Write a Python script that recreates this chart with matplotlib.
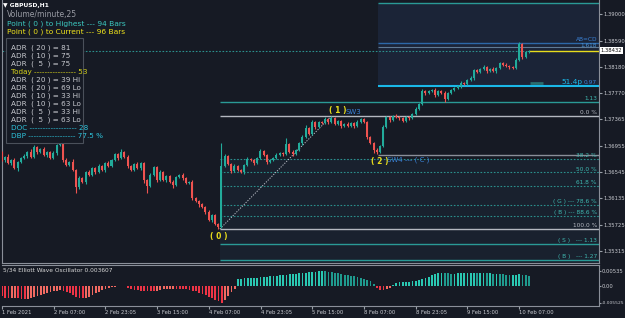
"""
GBPUSD H1 chart with Fibonacci levels, ADR panel and Elliott Wave Oscillator
"""

import matplotlib.pyplot as plt
import matplotlib.patches as mpatches
import matplotlib.transforms as mtransforms
import numpy as np

BG = '#161a24'
FG = '#c8cad0'
GREEN = '#22ab9b'
RED = '#ef5350'
TEAL = '#2a9a96'
GRAY = '#b4b8c0'
YELLOW = '#e8dc1c'
BLUE = '#3a82d8'
CYAN = '#1ab8e8'

plt.rcParams.update({
    'font.family': 'DejaVu Sans',
    'font.size': 5,
})

# ---- data (H1 candles, 1 Feb 15:00 .. 10 Feb 10:00) ----
first_open = 1.36840
closes = [
    1.36731, 1.36778, 1.36684, 1.36731, 1.36606, 1.36700, 1.36762, 1.36793,
    1.36855, 1.36778, 1.36933, 1.36855, 1.36902, 1.36809, 1.36855, 1.36762,
    1.36840, 1.36964, 1.36995, 1.36731, 1.36653, 1.36700, 1.36575, 1.36311,
    1.36451, 1.36389, 1.36544, 1.36498, 1.36606, 1.36544, 1.36638, 1.36575,
    1.36684, 1.36638, 1.36731, 1.36824, 1.36762, 1.36855, 1.36778, 1.36638,
    1.36575, 1.36669, 1.36606, 1.36684, 1.36420, 1.36326, 1.36498, 1.36622,
    1.36420, 1.36544, 1.36420, 1.36482, 1.36389, 1.36342, 1.36466, 1.36498,
    1.36451, 1.36373, 1.36389, 1.36140, 1.36093, 1.36046, 1.36000, 1.35922,
    1.35797, 1.35875, 1.35735, 1.35688, 1.36638, 1.36793, 1.36669, 1.36560,
    1.36638, 1.36575, 1.36544, 1.36653, 1.36747, 1.36731, 1.36684, 1.36762,
    1.36871, 1.36809, 1.36700, 1.36731, 1.36762, 1.36809, 1.36840, 1.36824,
    1.36980, 1.36855, 1.36824, 1.36887, 1.36995, 1.37089, 1.37229, 1.37136,
    1.37322, 1.37244, 1.37322, 1.37307, 1.37369, 1.37322, 1.37384, 1.37291,
    1.37338, 1.37260, 1.37291, 1.37260, 1.37307, 1.37260, 1.37322, 1.37369,
    1.37322, 1.37089, 1.36995, 1.36887, 1.36855, 1.36949, 1.37244, 1.37400,
    1.37353, 1.37416, 1.37400, 1.37384, 1.37338, 1.37400, 1.37384, 1.37447,
    1.37525, 1.37602, 1.37805, 1.37773, 1.37805, 1.37820, 1.37742, 1.37805,
    1.37773, 1.37680, 1.37773, 1.37820, 1.37851, 1.37882, 1.37929, 1.37914,
    1.37976, 1.38007, 1.38131, 1.38100, 1.38147, 1.38178, 1.38116, 1.38147,
    1.38116, 1.38162, 1.38240, 1.38209, 1.38194, 1.38178, 1.38162, 1.38287,
    1.38536, 1.38334, 1.38411, 1.38432,
]
wick_hi = [  # pips above body
    3, 2, 4, 2, 3, 2, 1, 3, 2, 4, 3, 2, 1, 3, 2, 2,
    3, 2, 5, 2, 3, 2, 4, 1, 3, 2, 2, 3, 1, 2, 3, 2,
    2, 3, 1, 2, 2, 4, 2, 3, 1, 2, 3, 2, 2, 1, 3, 2,
    2, 3, 2, 1, 2, 3, 2, 2, 3, 1, 2, 3, 2, 2, 1, 2,
    3, 2, 1, 2, 36, 3, 2, 2, 3, 1, 2, 2, 3, 2, 1, 2,
    3, 2, 1, 2, 2, 3, 2, 1, 9, 2, 3, 2, 2, 3, 4, 2,
    3, 2, 2, 1, 3, 2, 3, 2, 2, 2, 1, 3, 2, 2, 3, 2,
    2, 1, 2, 2, 3, 2, 3, 2, 2, 1, 3, 2, 2, 1, 2, 2,
    3, 2, 3, 2, 2, 1, 3, 2, 2, 3, 2, 2, 1, 2, 3, 2,
    2, 3, 2, 2, 1, 3, 2, 2, 3, 1, 2, 2, 3, 2, 1, 3,
    3, 1, 2, 1,
]
wick_lo = [  # pips below body
    2, 3, 2, 3, 2, 4, 2, 1, 3, 2, 2, 3, 2, 1, 3, 2,
    2, 3, 2, 3, 2, 2, 1, 9, 3, 2, 3, 2, 2, 3, 1, 2,
    3, 2, 2, 1, 3, 2, 2, 3, 2, 2, 1, 3, 4, 11, 2, 2,
    3, 2, 2, 3, 2, 4, 2, 1, 3, 2, 2, 3, 2, 4, 2, 3,
    2, 3, 2, 3, 1, 2, 2, 3, 2, 1, 2, 3, 2, 2, 3, 2,
    1, 2, 3, 2, 2, 1, 2, 3, 1, 2, 3, 2, 2, 3, 2, 2,
    2, 3, 1, 2, 2, 3, 2, 1, 2, 3, 2, 2, 1, 3, 2, 2,
    2, 3, 2, 4, 3, 2, 1, 2, 3, 2, 2, 3, 2, 1, 3, 2,
    2, 1, 2, 3, 2, 2, 3, 1, 2, 4, 2, 2, 1, 2, 3, 2,
    2, 2, 3, 2, 2, 1, 3, 2, 2, 3, 2, 1, 2, 3, 2, 2,
    1, 3, 2, 1,
]
ewo = [
    -0.0033, -0.0038, -0.0041, -0.0040, -0.0039, -0.0041, -0.0043, -0.0044,
    -0.0042, -0.0038, -0.0035, -0.0032, -0.0028, -0.0025, -0.0021, -0.0018,
    -0.0016, -0.0014, -0.0013, -0.0015, -0.0019, -0.0024, -0.0030, -0.0036,
    -0.0040, -0.0041, -0.0040, -0.0036, -0.0030, -0.0024, -0.0018, -0.0012,
    -0.0008, -0.0005, -0.0003, -0.0001, 0.0001, 0.0002, 0.0001, -0.0004,
    -0.0008, -0.0011, -0.0013, -0.0014, -0.0014, -0.0015, -0.0016, -0.0016,
    -0.0015, -0.0013, -0.0010, -0.0009, -0.0008, -0.0007, -0.0007, -0.0008,
    -0.0008, -0.0009, -0.0011, -0.0014, -0.0017, -0.0021, -0.0025, -0.0030,
    -0.0035, -0.0040, -0.0046, -0.0051, -0.005525, -0.0046, -0.0032, -0.0020,
    -0.0008, 0.0025, 0.0027, 0.0028, 0.0029, 0.0030, 0.0031, 0.0031,
    0.0032, 0.0033, 0.0034, 0.0035, 0.0036, 0.0037, 0.0038, 0.0039,
    0.0041, 0.0042, 0.0043, 0.0044, 0.0046, 0.0047, 0.0048, 0.0049,
    0.0050, 0.0051, 0.0052, 0.00535, 0.0053, 0.0051, 0.0049, 0.0047,
    0.0045, 0.0043, 0.0041, 0.0039, 0.0037, 0.0035, 0.0033, 0.0030,
    0.0027, 0.0024, 0.0018, 0.0008, -0.0005, -0.0011, -0.0013, -0.0010,
    -0.0005, 0.0004, 0.0012, 0.0015, 0.0016, 0.0017, 0.0017, 0.0018,
    0.0020, 0.0023, 0.0026, 0.0030, 0.0034, 0.0038, 0.0042, 0.0045,
    0.0047, 0.0046, 0.0045, 0.0044, 0.0044, 0.0045, 0.0046, 0.0046,
    0.0047, 0.0047, 0.0047, 0.0046, 0.0046, 0.0046, 0.0045, 0.0045,
    0.0044, 0.0044, 0.0043, 0.0042, 0.0041, 0.0040, 0.0040, 0.0041,
    0.0042, 0.0041, 0.0039, 0.003607,
]

time_labels = ['1 Feb 2021', '2 Feb 07:00', '2 Feb 23:05', '3 Feb 15:00', '4 Feb 07:00',
               '4 Feb 23:05', '5 Feb 15:00', '8 Feb 07:00', '8 Feb 23:05', '9 Feb 15:00',
               '10 Feb 07:00']
price_ticks = [1.39000, 1.38590, 1.38180, 1.37770, 1.37365, 1.36955,
               1.36545, 1.36135, 1.35725, 1.35315]
ewo_ticks = [0.00535, 0.0, -0.005525]
ewo_tick_labels = ['0.00535', '0.00', '-0.005525']

# fibonacci swing (point 0 low -> point 1 high)
fib_high = 1.37416
fib_low = 1.35657
fib_ratios = [0.0, 0.382, 0.5, 0.618, 0.786, 0.886, 1.0, 1.13, 1.27]
fib_labels = ['0.0 %', '38.2 %', '50.0 %', '61.8 %', '( G ) --- 78.6 %',
              '( B ) --- 88.6 %', '100.0 %', '( S )   --- 1.13', '( B )   --- 1.27']
point0_bar, point1_bar, point2_bar = 67, 102, 116
point2_level = 1.36809

# AB=CD projection levels
top_level = 1.39169
abcd_level = 1.38551
abcd_1618 = 1.38485
proj_097 = 1.37882
proj_113 = 1.37633
marker_level = 1.37929
current_price = 1.38432

info_lines = [
    ('ADR  ( 20 ) = 81', FG), ('ADR  ( 10 ) = 75', FG), ('ADR  (  5  ) = 75', FG),
    ('Today ---------------- 53', '#d6d21a'),
    ('ADR  ( 20 ) = 39 Hi', FG), ('ADR  ( 20 ) = 69 Lo', FG),
    ('ADR  ( 10 ) = 33 Hi', FG), ('ADR  ( 10 ) = 63 Lo', FG),
    ('ADR  (  5  ) = 33 Hi', FG), ('ADR  (  5  ) = 63 Lo', FG),
    ('DOC ------------------ 28', '#2ec4dc'), ('DBP ------------------ 77.5 %', '#2ec4dc'),
]

# ---- figure ----
W, H = 625, 318
fig = plt.figure(figsize=(W / 100, H / 100), dpi=100, facecolor=BG)


def px_axes(x0, y0, x1, y1):
    return fig.add_axes([x0 / W, 1 - y1 / H, (x1 - x0) / W, (y1 - y0) / H])


ax = px_axes(2, 0, 599, 263)
osc = px_axes(2, 265, 599, 306)

n = len(closes)
idx = np.arange(n)
closes_a = np.array(closes)
opens_a = np.concatenate([[first_open], closes_a[:-1]])
highs = np.maximum(opens_a, closes_a) + np.array(wick_hi) * 1e-4
lows = np.minimum(opens_a, closes_a) - np.array(wick_lo) * 1e-4
up = closes_a >= opens_a

x_left, x_right = 0.15, 184.7
y_bot, y_top = 1.35128, 1.39221
fib_start = point0_bar + 0.5
box_start = point2_bar + 0.4
AXIS_FS = 3.8

# shaded zones
ax.add_patch(mpatches.Rectangle((fib_start, y_bot), x_right - fib_start,
                                fib_high - 0.382 * (fib_high - fib_low) - y_bot,
                                facecolor='#19212e', edgecolor='none', zorder=0))
ax.add_patch(mpatches.Rectangle((box_start, proj_097), x_right - box_start,
                                top_level - proj_097, facecolor='#1b2437',
                                edgecolor='none', zorder=0))

bt = mtransforms.blended_transform_factory(ax.transAxes, ax.transData)

# fib levels
for r, lab in zip(fib_ratios, fib_labels):
    lvl = fib_high - r * (fib_high - fib_low)
    if r in (0.0, 1.0):
        ax.hlines(lvl, fib_start, x_right, color=GRAY, lw=1.0, zorder=1)
        col = GRAY
    elif r > 1.0:
        ax.hlines(lvl, fib_start, x_right, color=TEAL, lw=1.0, zorder=1)
        col = '#3fb8b0'
    else:
        ax.hlines(lvl, fib_start, x_right, color='#2b8f8c', lw=0.8,
                  linestyles=(0, (1.5, 1.5)), zorder=1)
        col = '#3fb8b0'
    ax.text(0.9966, lvl + 0.00012, lab, transform=bt, ha='right', va='bottom',
            fontsize=4.2, color=col)

ax.hlines(point2_level, box_start, x_right, color='#8a8f99', lw=1.0, zorder=1)

# projection lines
ax.hlines(top_level, box_start, x_right, color=TEAL, lw=1.0, zorder=1)
ax.hlines(abcd_level, box_start, x_right, color='#2d68a8', lw=1.0, zorder=1)
ax.hlines(abcd_1618, box_start, x_right, color='#5f7a95', lw=0.8, zorder=1)
ax.hlines(current_price, x_left, x_right, color='#2b8f8c', lw=0.8,
          linestyles=(0, (1.5, 1.5)), zorder=1)
ax.hlines(current_price, idx[-1], x_right, color=YELLOW, lw=1.0, zorder=2)
ax.hlines(proj_097, box_start, x_right, color=CYAN, lw=1.5, zorder=1)
ax.hlines(proj_113, fib_start, x_right, color=TEAL, lw=1.0, zorder=1)
ax.hlines(marker_level, idx[-1] + 0.5, idx[-1] + 4.5, color='#2a6e70', lw=2, zorder=1)

ax.text(0.9966, abcd_level + 0.0001, 'AB=CD', transform=bt, ha='right', va='bottom',
        fontsize=4.2, color=BLUE)
ax.text(0.9966, abcd_1618 - 0.0001, '1.618', transform=bt, ha='right', va='bottom',
        fontsize=4.2, color='#4a90d0')
ax.text(0.9966, proj_097 + 0.00015, '0.97', transform=bt, ha='right', va='bottom',
        fontsize=4.2, color=BLUE)
ax.text(173.0, proj_097 + 0.0001, '51.4p', ha='left', va='bottom', fontsize=5.3, color=CYAN)
ax.text(0.9966, proj_113 + 0.00015, '1.13', transform=bt, ha='right', va='bottom',
        fontsize=4.2, color='#3fb8b0')

# swing line 0 -> 1
ax.plot([point0_bar + 0.5, point1_bar], [fib_low, fib_high], color='#c0c4cc', lw=0.7,
        linestyle=(0, (1.2, 1.5)), zorder=2)

# candles
colors = np.where(up, GREEN, RED)
ax.vlines(idx, lows, highs, colors=colors, lw=0.8, zorder=3)
body = np.where(np.abs(closes_a - opens_a) < 4e-5, 4e-5, closes_a - opens_a)
ax.bar(idx, body, bottom=opens_a, width=0.62, color=colors, linewidth=0, zorder=4)

# point labels
ax.text(point0_bar + 0.2, fib_low - 0.0004, '( 0 )', ha='center', va='top',
        fontsize=5.5, color=YELLOW, fontweight='bold')
ax.text(point1_bar + 1.8, fib_high + 0.0002, '( 1 )', ha='center', va='bottom',
        fontsize=5.5, color=YELLOW, fontweight='bold')
ax.text(point1_bar + 4.2, fib_high + 0.0002, 'SW3', ha='left', va='bottom',
        fontsize=5, color=BLUE)
ax.text(point2_bar + 0.8, point2_level - 0.0003, '( 2 )', ha='center', va='top',
        fontsize=5.5, color=YELLOW, fontweight='bold')
ax.text(point2_bar + 3.2, point2_level - 0.0003, 'SW4 --- ( C )', ha='left', va='top',
        fontsize=5, color=BLUE)

ax.set_xlim(x_left, x_right)
ax.set_ylim(y_bot, y_top)
ax.set_facecolor(BG)
ax.yaxis.tick_right()
ax.set_yticks(price_ticks)
ax.set_yticklabels([f'{p:.5f}' for p in price_ticks])
ax.tick_params(axis='y', colors='#9aa0a8', labelcolor=FG, labelsize=AXIS_FS, length=2, pad=1)
ax.set_xticks([])
for side in ('left', 'right', 'bottom'):
    ax.spines[side].set_color('#8a8f99')
    ax.spines[side].set_linewidth(0.8)
ax.spines['top'].set_visible(False)

ax.text(1.003, current_price, '1.38432', transform=bt, ha='left', va='center',
        fontsize=AXIS_FS, color='#101010',
        bbox=dict(boxstyle='square,pad=0.2', facecolor='white', edgecolor='none'))

# oscillator
ewo_a = np.array(ewo)
prev = np.concatenate([[ewo_a[0]], ewo_a[:-1]])
osc_cols = np.where(ewo_a >= 0,
                    np.where(ewo_a >= prev, '#2ac8b2', '#1f9a8e'),
                    np.where(ewo_a <= prev, '#ee3446', '#f26a62'))
osc.bar(idx, ewo_a, width=0.55, color=osc_cols, linewidth=0)
osc.set_xlim(x_left, x_right)
osc.set_ylim(-0.00673, 0.00742)
osc.set_facecolor(BG)
osc.yaxis.tick_right()
osc.set_yticks(ewo_ticks)
osc.set_yticklabels(ewo_tick_labels)
osc.set_xticks(np.arange(0, n, 16))
osc.set_xticklabels(time_labels)
for lab in osc.get_xticklabels():
    lab.set_horizontalalignment('left')
osc.tick_params(axis='both', colors='#9aa0a8', labelcolor=FG, labelsize=AXIS_FS,
                length=2, pad=1)
osc.tick_params(axis='y', length=1.5, pad=0.3)
osc.get_yticklabels()[-1].set_fontsize(3.2)
for side in osc.spines:
    osc.spines[side].set_color('#8a8f99')
    osc.spines[side].set_linewidth(0.8)
osc.spines['left'].set_visible(False)

fig.text(3 / W, 1 - 270 / H, '5/34 Elliott Wave Oscillator 0.003607', fontsize=4.2,
         color='#d8d8d8', va='center')

# header texts
fig.text(3 / W, 1 - 5 / H, '\u25BC GBPUSD,H1', fontsize=4.3, color='white',
         fontweight='bold', va='center')
fig.text(7 / W, 1 - 15 / H, 'Volume/minute,25', fontsize=5.5, color='#9a9ca4', va='center')
fig.text(7 / W, 1 - 24 / H, 'Point ( 0 ) to Highest --- 94 Bars', fontsize=5.4,
         color='#3cc8c0', va='center')
fig.text(7 / W, 1 - 32 / H, 'Point ( 0 ) to Current --- 96 Bars', fontsize=5.4,
         color='#f0e41c', va='center')

fig.add_artist(mpatches.Rectangle((6 / W, 1 - 143 / H), 77 / W, 105 / H,
                                  transform=fig.transFigure, facecolor=BG,
                                  edgecolor='#4a505a', lw=0.8, zorder=5))
for k, (txt, col) in enumerate(info_lines):
    fig.text(11 / W, 1 - (48 + 8 * k) / H, txt, fontsize=5.2, color=col, va='center',
             zorder=6)

fig.savefig('out.png', dpi=100, facecolor=BG)
plt.close()
